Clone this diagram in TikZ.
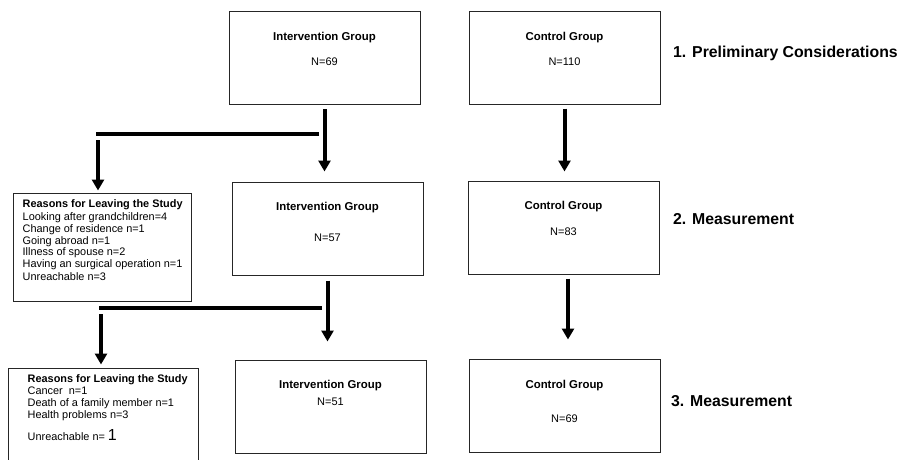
\documentclass[tikz,border=0pt]{standalone}
\usepackage{fontspec}
\setmainfont{Liberation Sans}
\usetikzlibrary{arrows.meta,positioning,calc}

\tikzset{
  grp/.style={draw=black!85, line width=1pt, minimum width=191pt, minimum height=93pt, inner sep=0pt},
  why/.style={draw=black!85, line width=1pt, inner sep=0pt},
  ttl/.style={font=\fontsize{11.4}{13}\selectfont\bfseries, inner sep=0pt},
  num/.style={font=\fontsize{11}{13}\selectfont, inner sep=0pt},
  phase/.style={font=\fontsize{15.8}{19}\selectfont\bfseries, anchor=west, inner sep=0pt},
  lst/.style={font=\fontsize{10.9}{11.8}\selectfont, align=left, anchor=north west, inner sep=0pt},
  bar/.style={line width=4pt},
  flow/.style={line width=4pt, -{Triangle[length=11pt,width=12pt]}},
}

\begin{document}
\begin{tikzpicture}[x=1pt,y=-1pt]
  \useasboundingbox (0,0) rectangle (898,459);
  % the six group boxes
  \foreach \nm/\x/\y/\txt/\gap/\val in {
      int1/324.5/58/Intervention Group/51/69,
      ctl1/564.5/58/Control Group/51/110,
      int2/327.5/228.5/Intervention Group/56/57,
      ctl2/563.5/227.5/Control Group/51/83,
      int3/330.5/406.5/Intervention Group/42/51,
      ctl3/564.5/406/Control Group/60/69}
  {
    \node[grp] (\nm) at (\x,\y) {};
    \node[ttl] (\nm-t) at ([yshift=-26.5pt]\nm.north) {\txt};
    \node[num] (\nm-n) at ([yshift={-\gap*1pt}]\nm.north) {N=\val};
  }
  % drop-outs
  \node[why, minimum width=178pt, minimum height=108pt] (why1) at (102,247) {};
  \node[lst] (why1-t) at ([xshift=10pt,yshift=-7pt]why1.north west)
    {\textbf{Reasons for Leaving the Study}\\[1pt]
     Looking after grandchildren=4\\
     Change of residence n=1\\
     Going abroad n=1\\
     Illness of spouse n=2\\
     Having an surgical operation n=1\\[1.5pt]
     Unreachable n=3};
  \node[why, minimum width=190pt, minimum height=94pt] (why2) at (103,415) {};
  \node[lst] (why2-t) at ([xshift=20pt,yshift=-7pt]why2.north west)
    {\textbf{Reasons for Leaving the Study}\\
     Cancer~ n=1\\
     Death of a family member n=1\\
     Health problems n=3\\[8pt]
     Unreachable n= {\fontsize{16}{16}\selectfont 1}};
  % phases
  \node[phase] (ph1) at (673,53) {1. Preliminary Considerations};
  \node[phase] (ph2) at (673,219) {2. Measurement};
  \node[phase] (ph3) at (671,401) {3. Measurement};
  % arrows
  \draw[flow, shorten <=4pt, shorten >=10pt] (int1.south) -- (int1.south |- int2.north);
  \draw[flow, shorten <=5pt, shorten >=18pt] (int2.south) -- (int2.south |- int3.north);
  \draw[flow, shorten <=3.5pt, shorten >=9pt] (ctl1.south) -- (ctl1.south |- ctl2.north);
  \draw[flow, shorten <=4pt, shorten >=19.5pt] ([xshift=4.5pt]ctl2.south) -- ([xshift=4.5pt]ctl2.south |- ctl3.north);
  \coordinate (j1) at (319,134);
  \coordinate (k1) at (98,134);
  \draw[bar] (j1) -- ([xshift=-2pt]k1);
  \draw[flow, shorten >=2pt] ([yshift=-6pt]k1) -- (k1 |- why1.north);
  \coordinate (j2) at (322,308);
  \coordinate (k2) at (101,308);
  \draw[bar] (j2) -- ([xshift=-2pt]k2);
  \draw[flow, shorten >=3pt] ([yshift=-6pt]k2) -- (k2 |- why2.north);
\end{tikzpicture}
\end{document}
